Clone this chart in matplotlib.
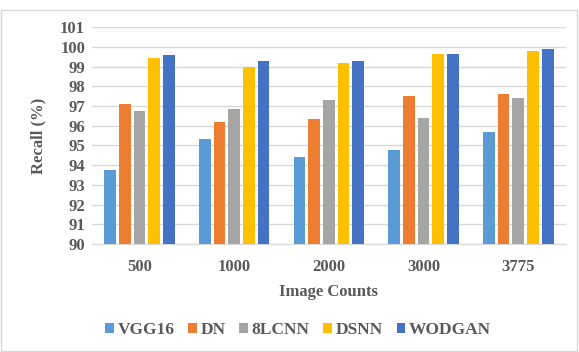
import matplotlib.pyplot as plt
import numpy as np
from matplotlib.patches import Rectangle

plt.rcParams['font.family'] = ['Liberation Serif']
plt.rcParams['font.weight'] = 'bold'
plt.rcParams['axes.labelweight'] = 'bold'

counts = ['500', '1000', '2000', '3000', '3775']
models = ['VGG16', 'DN', '8LCNN', 'DSNN', 'WODGAN']
vgg16 = [93.75, 95.3, 94.4, 94.75, 95.7]
dn = [97.1, 96.2, 96.35, 97.5, 97.6]
lcnn8 = [96.75, 96.85, 97.3, 96.4, 97.4]
dsnn = [99.45, 99.0, 99.2, 99.65, 99.77]
wodgan = [99.57, 99.27, 99.3, 99.62, 99.87]
colors = ['#5B9BD5', '#ED7D31', '#A5A5A5', '#FFC000', '#4472C4']
txt = '#595959'

fig = plt.figure(figsize=(5.79, 3.52), dpi=100)
ax = fig.add_axes([0.159, 0.307, 0.818, 0.616])
fig.patches.append(Rectangle((0.002, 0.003), 0.995, 0.97, transform=fig.transFigure,
                             fill=False, edgecolor='#d9d9d9', lw=1))

x = np.arange(len(counts))
step = 0.155
w = 0.123
for i, (vals, name) in enumerate(zip([vgg16, dn, lcnn8, dsnn, wodgan], models)):
    ax.bar(x + (i - 2) * step, np.array(vals) - 90, w, bottom=90, color=colors[i],
           label=name, zorder=3)

ax.set_ylim(90, 101)
ax.set_xlim(-0.5, 4.5)
ax.set_yticks(np.arange(90, 102, 1))
ax.set_xticks(x)
ax.set_xticklabels(counts)
ax.grid(axis='y', color='#d9d9d9', lw=1, zorder=0)
for s in ['top', 'right', 'left']:
    ax.spines[s].set_visible(False)
ax.spines['bottom'].set_color('#d9d9d9')
ax.tick_params(length=0, labelsize=12, colors=txt)
ax.tick_params(axis='x', pad=11)
ax.tick_params(axis='y', pad=5)
ax.set_xlabel('Image Counts', fontsize=12, color=txt, fontweight='bold', labelpad=6)
ax.set_ylabel('Recall (%)', fontsize=12, color=txt, fontweight='bold', labelpad=10)

ax.legend(loc='upper center', bbox_to_anchor=(0.435, -0.29), ncol=5, frameon=False,
          prop={'size': 12.5, 'weight': 'bold'}, handlelength=0.5, handleheight=0.5,
          handletextpad=0.2, columnspacing=0.8, labelcolor=txt)

fig.savefig('out.png', dpi=100)
